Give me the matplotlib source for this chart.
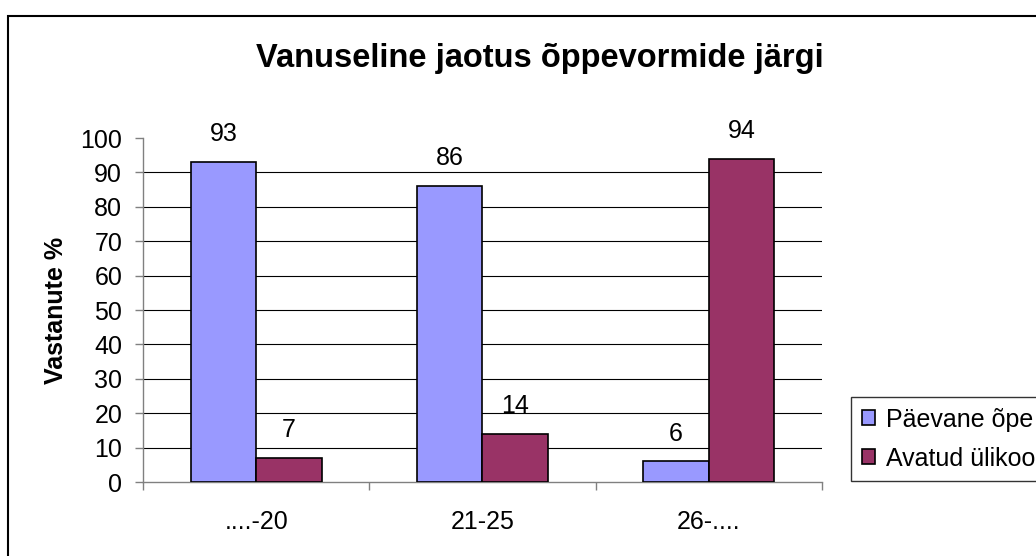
import matplotlib.pyplot as plt
from matplotlib.patches import Rectangle
from matplotlib.ticker import FixedLocator
import numpy as np

plt.rcParams['font.family'] = ['Liberation Sans', 'DejaVu Sans']

categories = ['....-20', '21-25', '26-....']
series_names = ['Päevane õpe', 'Avatud ülikool']
paevane = [93, 86, 6]
avatud = [7, 14, 94]
colors = ['#9999FF', '#993366']

W, H = 1036, 556
fs = 18
fig = plt.figure(figsize=(W / 100, H / 100), dpi=100)
ax = fig.add_axes([143 / W, 1 - 482 / H, (822 - 143) / W, (482 - 138) / H])

x = np.arange(len(categories))
w = 0.29
bars1 = ax.bar(x - w / 2, paevane, w, color=colors[0], edgecolor='black', linewidth=1.2,
               label=series_names[0], zorder=3)
bars2 = ax.bar(x + w / 2, avatud, w, color=colors[1], edgecolor='black', linewidth=1.2,
               label=series_names[1], zorder=3)

for bars in (bars1, bars2):
    for b in bars:
        ax.annotate(str(int(b.get_height())), (b.get_x() + b.get_width() / 2, b.get_height()),
                    xytext=(0, 20), textcoords='offset points', ha='center', va='center',
                    fontsize=fs)

ax.set_xlim(-0.5, 2.5)
ax.set_ylim(0, 100)
ax.set_yticks(np.arange(0, 101, 10))
ax.tick_params(axis='y', labelsize=fs, length=6, width=1, color='#808080', pad=9)
ax.set_xticks(x)
ax.set_xticklabels(categories)
ax.xaxis.set_minor_locator(FixedLocator([-0.5, 0.5, 1.5, 2.5]))
ax.tick_params(axis='x', which='major', length=0, labelsize=fs, pad=20)
ax.tick_params(axis='x', which='minor', length=6, width=1, color='#808080')

ax.yaxis.grid(True, color='black', linewidth=0.8, zorder=0)
ax.set_axisbelow(True)
gl = ax.get_ygridlines()
gl[0].set_visible(False)
gl[-1].set_visible(False)

for s in ['top', 'right']:
    ax.spines[s].set_visible(False)
for s in ['left', 'bottom']:
    ax.spines[s].set_color('#808080')
    ax.spines[s].set_linewidth(1)

ax.set_ylabel('Vastanute %', fontsize=fs, fontweight='bold', labelpad=9)

fig.text(540 / W, 1 - 58 / H, 'Vanuseline jaotus õppevormide järgi', ha='center', va='center',
         fontsize=23.5, fontweight='bold')

# legend runs past the right edge, as in the original
leg = fig.legend(loc='upper left', bbox_to_anchor=(851 / W, 1 - 397 / H), fontsize=fs,
                 frameon=True, fancybox=False, borderaxespad=0, handlelength=0.55,
                 handleheight=0.55, handletextpad=0.45, labelspacing=0.6, borderpad=0.42)
leg.get_frame().set_edgecolor('black')
leg.get_frame().set_linewidth(1)

fig.add_artist(Rectangle((8 / W, -0.1), 2, 1 - 16 / H + 0.1, transform=fig.transFigure,
                         fill=False, edgecolor='black', linewidth=1.5))

fig.savefig('out.png', dpi=100)
